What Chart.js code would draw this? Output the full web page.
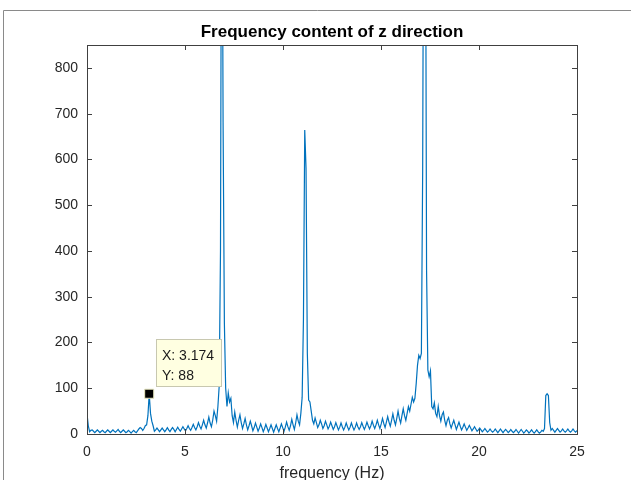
<!DOCTYPE html>
<html>
<head>
<meta charset="utf-8">
<script src="https://cdn.jsdelivr.net/npm/chart.js@4.4.1/dist/chart.umd.min.js"></script>
<style>
  html, body { margin: 0; padding: 0; background: #fff; }
  #wrap { width: 631px; height: 480px; }
</style>
</head>
<body>
<div id="wrap"><canvas id="fftChart" width="631" height="480"></canvas></div>
<script>
// frequency grid (Hz) and spectrum magnitude
const freqStep = 0.066125;
const amplitude = [
  44, 18, 5, 8, 9, 6, 3, 6, 9, 6,
  3, 6, 8, 5, 3, 6, 9, 6, 3, 6,
  9, 6, 4, 7, 10, 6, 3, 6, 9, 6,
  3, 5, 8, 5, 2, 5, 8, 5, 3, 7,
  11, 14, 12, 8, 12, 18, 20, 40, 88, 45,
  28, 18, 6, 9, 13, 9, 5, 9, 13, 9,
  5, 9, 14, 9, 5, 10, 14, 10, 5, 10,
  15, 10, 6, 11, 16, 11, 7, 12, 18, 12,
  8, 14, 21, 14, 9, 16, 25, 17, 11, 20,
  30, 20, 13, 24, 37, 24, 16, 30, 50, 40,
  28, 60, 105, 400, 1500, 680, 242, 100, 60, 90,
  70, 78, 40, 25, 48, 30, 15, 30, 42, 25,
  12, 22, 34, 20, 9, 18, 28, 18, 7, 14,
  24, 15, 6, 13, 22, 14, 5, 12, 21, 13,
  5, 12, 20, 12, 4, 12, 20, 12, 5, 13,
  22, 14, 6, 15, 26, 16, 8, 18, 32, 20,
  10, 24, 42, 28, 20, 45, 80, 250, 664, 581,
  177, 74, 70, 50, 30, 22, 35, 25, 14, 20,
  30, 22, 12, 18, 28, 20, 11, 17, 26, 18,
  10, 16, 25, 17, 9, 15, 24, 16, 9, 15,
  24, 16, 9, 15, 24, 16, 9, 15, 24, 16,
  10, 16, 25, 17, 10, 17, 26, 18, 11, 18,
  28, 19, 12, 20, 30, 20, 12, 22, 34, 23,
  14, 26, 38, 26, 17, 30, 44, 30, 20, 34,
  50, 34, 24, 40, 55, 40, 30, 45, 60, 50,
  65, 80, 70, 78, 110, 150, 172, 165, 176, 577,
  1500, 1400, 358, 140, 125, 138, 60, 55, 68, 45,
  38, 60, 40, 28, 42, 48, 30, 18, 30, 36,
  22, 13, 22, 30, 20, 10, 18, 26, 17, 9,
  15, 22, 15, 8, 13, 19, 13, 7, 11, 16,
  11, 6, 9, 13, 9, 5, 8, 12, 8, 4,
  7, 11, 7, 4, 7, 11, 7, 3, 7, 11,
  7, 3, 7, 10, 7, 3, 6, 10, 6, 3,
  6, 10, 6, 2, 6, 10, 6, 2, 5, 9,
  6, 2, 5, 9, 5, 2, 5, 9, 5, 2,
  4, 8, 6, 12, 84, 88, 84, 25, 8, 12,
  8, 4, 8, 12, 8, 4, 7, 11, 7, 4,
  7, 11, 7, 4, 7, 11, 7, 4, 7, 10
];
const xTicks = [0, 5, 10, 15, 20, 25];
const yTicks = [0, 100, 200, 300, 400, 500, 600, 700, 800];
const tipX = 3.174;
const tipY = 88;

const titleText = "Frequency content of z direction";
const xLabelText = "frequency (Hz)";
const lineColor = "#0072BD";
const axisColor = "#404040";
const textColor = "#262626";
const fontFamily = "'Liberation Sans', Arial, sans-serif";

const spectrum = amplitude.map((v, i) => ({ x: i * freqStep, y: v }));

// MATLAB-like figure decorations: box, inward ticks, title, label, datatip
const matlabFrame = {
  id: "matlabFrame",
  beforeDraw(chart) {
    const ctx = chart.ctx;
    ctx.save();
    ctx.fillStyle = "#fff";
    ctx.fillRect(0, 0, chart.width, chart.height);
    // outer window edge
    ctx.strokeStyle = "#8a8a8a";
    ctx.lineWidth = 1;
    ctx.beginPath();
    ctx.moveTo(3.5, chart.height);
    ctx.lineTo(3.5, 10.5);
    ctx.lineTo(chart.width, 10.5);
    ctx.stroke();
    ctx.restore();
  },
  afterDatasetsDraw(chart) {
    const { ctx, chartArea: a, scales } = chart;
    ctx.save();
    ctx.strokeStyle = axisColor;
    ctx.lineWidth = 1;
    ctx.strokeRect(Math.round(a.left) + 0.5, Math.round(a.top) + 0.5,
      Math.round(a.right - a.left), Math.round(a.bottom - a.top));
    ctx.beginPath();
    xTicks.forEach(v => {
      const px = Math.round(scales.x.getPixelForValue(v)) + 0.5;
      ctx.moveTo(px, a.bottom); ctx.lineTo(px, a.bottom - 5);
      ctx.moveTo(px, a.top); ctx.lineTo(px, a.top + 5);
    });
    yTicks.forEach(v => {
      const py = Math.round(scales.y.getPixelForValue(v)) + 0.5;
      ctx.moveTo(a.left, py); ctx.lineTo(a.left + 5, py);
      ctx.moveTo(a.right, py); ctx.lineTo(a.right - 5, py);
    });
    ctx.stroke();
    ctx.restore();
  },
  afterDraw(chart) {
    const { ctx, chartArea: a } = chart;
    const cx = (a.left + a.right) / 2;
    ctx.save();
    ctx.textAlign = "center";
    ctx.textBaseline = "alphabetic";
    ctx.fillStyle = "#000";
    ctx.font = "bold 17px " + fontFamily;
    ctx.fillText(titleText, cx, 37);
    ctx.fillStyle = textColor;
    ctx.font = "16px " + fontFamily;
    ctx.fillText(xLabelText, cx, 478);

    // datatip box
    ctx.fillStyle = "#ffffe1";
    ctx.strokeStyle = "#c8c8b0";
    ctx.fillRect(156.5, 339.5, 65, 47);
    ctx.strokeRect(156.5, 339.5, 65, 47);
    ctx.fillStyle = "#1a1a1a";
    ctx.textAlign = "left";
    ctx.font = "14px " + fontFamily;
    ctx.fillText("X: " + tipX, 162, 360);
    ctx.fillText("Y: " + tipY, 162, 380);
    ctx.restore();
  }
};

new Chart(document.getElementById("fftChart"), {
  type: "line",
  data: {
    datasets: [
      {
        label: "tip",
        data: [{ x: tipX, y: tipY }],
        showLine: false,
        pointStyle: "rect",
        pointRadius: 6.4,
        pointBackgroundColor: "#000",
        pointBorderColor: "#e8e8c0",
        pointBorderWidth: 1,
        order: 0
      },
      {
        label: "z",
        data: spectrum,
        borderColor: lineColor,
        borderWidth: 1.2,
        pointRadius: 0,
        tension: 0,
        fill: false,
        order: 1
      }
    ]
  },
  options: {
    responsive: false,
    animation: false,
    devicePixelRatio: 1,
    layout: { padding: { top: 45, right: 54, left: 0, bottom: 0 } },
    plugins: {
      legend: { display: false },
      tooltip: { enabled: false },
      title: { display: false }
    },
    events: [],
    scales: {
      x: {
        type: "linear",
        min: 0,
        max: 25,
        afterBuildTicks: s => { s.ticks = xTicks.map(v => ({ value: v })); },
        afterFit: s => { s.height = 46; },
        grid: { display: false, drawTicks: false },
        border: { display: false },
        ticks: {
          color: textColor,
          padding: 10,
          maxRotation: 0,
          font: { family: fontFamily, size: 14 }
        }
      },
      y: {
        type: "linear",
        min: 0,
        max: 850,
        afterBuildTicks: s => { s.ticks = yTicks.map(v => ({ value: v })); },
        afterFit: s => { s.width = 87; },
        grid: { display: false, drawTicks: false },
        border: { display: false },
        ticks: {
          color: textColor,
          padding: 9,
          font: { family: fontFamily, size: 14 }
        }
      }
    }
  },
  plugins: [matlabFrame]
});
</script>
</body>
</html>
